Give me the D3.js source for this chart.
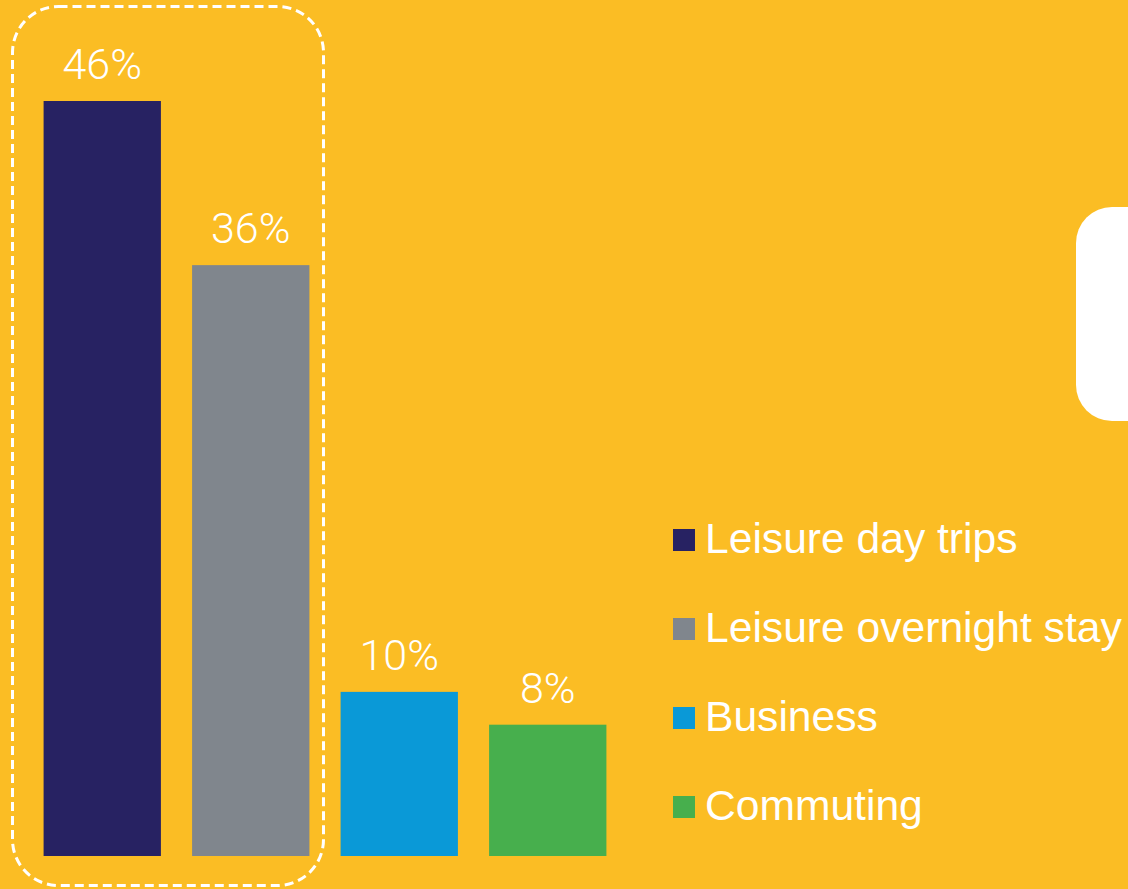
<!DOCTYPE html>
<html>
<head>
<meta charset="utf-8">
<script src="https://cdn.jsdelivr.net/npm/d3@7/dist/d3.min.js"></script>
<style>
  html, body { margin: 0; padding: 0; background: #FBBD24; }
  svg { display: block; }
</style>
</head>
<body>
<svg id="chart" width="1128" height="889"></svg>
<script>
// Trip purpose shares (%)
const categories = ["Leisure day trips", "Leisure overnight stay", "Business", "Commuting"];
const values = [46, 36, 10, 8];
const colors = ["#272262", "#80868D", "#0A99D7", "#47AF4D"];

const W = 1128, H = 889;
const svg = d3.select("#chart");

svg.append("rect").attr("width", W).attr("height", H).attr("fill", "#FBBD24");

// Bar area
const x = d3.scaleBand()
  .domain(categories)
  .range([28, 622])
  .paddingInner(0.21)
  .paddingOuter(0.105);

const y = d3.scaleLinear()
  .domain([0, 46])
  .range([856, 101]);

// Dashed frame around the two leisure bars
svg.append("rect")
  .attr("x", 12.5).attr("y", 6.5)
  .attr("width", 311).attr("height", 879)
  .attr("rx", 46).attr("ry", 46)
  .attr("fill", "none")
  .attr("stroke", "#ffffff")
  .attr("stroke-width", 3)
  .attr("stroke-dasharray", "9,5");

// White rounded panel on the right edge
svg.append("rect")
  .attr("x", 1076).attr("y", 207)
  .attr("width", 120).attr("height", 214)
  .attr("rx", 36).attr("ry", 36)
  .attr("fill", "#ffffff");

// Bars
svg.selectAll("rect.bar")
  .data(values)
  .enter().append("rect")
  .attr("class", "bar")
  .attr("x", (d, i) => x(categories[i]))
  .attr("y", d => y(d))
  .attr("width", x.bandwidth())
  .attr("height", d => y(0) - y(d))
  .attr("fill", (d, i) => colors[i]);

// Value labels
svg.selectAll("text.val")
  .data(values)
  .enter().append("text")
  .attr("class", "val")
  .attr("x", (d, i) => x(categories[i]) + x.bandwidth() / 2)
  .attr("y", d => y(d) - 22)
  .attr("text-anchor", "middle")
  .attr("fill", "#ffffff")
  .style("font-family", "Roboto, sans-serif")
  .style("font-size", "43px")
  .style("font-weight", "300")
  .text(d => d + "%");

// Legend
const legend = svg.append("g").attr("transform", "translate(673,540)");
const rowStep = 89;
const rows = legend.selectAll("g")
  .data(categories)
  .enter().append("g")
  .attr("transform", (d, i) => `translate(0,${i * rowStep})`);

rows.append("rect")
  .attr("x", 0).attr("y", -11)
  .attr("width", 22).attr("height", 22)
  .attr("fill", (d, i) => colors[i]);

rows.append("text")
  .attr("x", 32).attr("y", 13)
  .attr("fill", "#ffffff")
  .style("font-family", "'Liberation Sans', Arial, sans-serif")
  .style("font-size", "42.6px")
  .text(d => d);
</script>
</body>
</html>
